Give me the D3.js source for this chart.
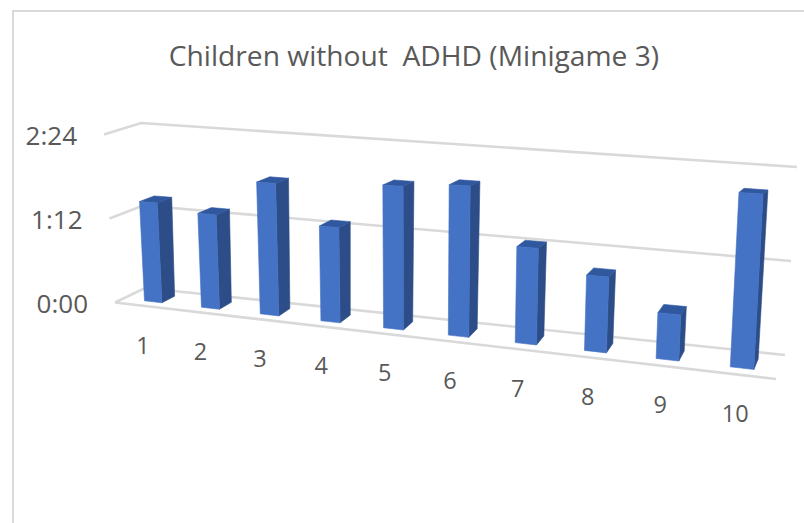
<!DOCTYPE html>
<html><head><meta charset="utf-8">
<script src="https://cdn.jsdelivr.net/npm/d3@7"></script>
<style>html,body{margin:0;padding:0;background:#fff}svg{display:block}text{font-family:"Open Sans",sans-serif;fill:#595959;white-space:pre}</style>
</head><body><svg width="804" height="523"></svg>
<script>
const title = "Children without  ADHD (Minigame 3)";
const categories = ["1","2","3","4","5","6","7","8","9","10"];
const valueLabels = ["1:25","1:19","1:49","1:17","1:54","1:58","1:14","0:57","0:34","2:07"];
const tickLabels = ["0:00","1:12","2:24"];

const secs = s => { const [m, r] = s.split(":").map(Number); return m * 60 + r; };
const svg = d3.select("svg");
const W = 804, H = 523;

// projected box: corners are [x, y] at (u, v, d)
const corners = {
  "000": [115, 302.5], "100": [776, 379], "010": [104, 134.5], "110": [787, 174],
  "001": [145, 288],   "101": [785, 355], "011": [141, 123],   "111": [797, 167]
};
const lerp = (a, b, t) => a + (b - a) * t;
function project(u, v, d) {
  const at = i => {
    const c = (a, b) => corners[`${a}${b}0`][i] * (1 - d) + corners[`${a}${b}1`][i] * d;
    return lerp(lerp(c(0, 0), c(0, 1), v), lerp(c(1, 0), c(1, 1), v), u);
  };
  return [at(0), at(1)];
}
const k = 0.18, shift = 0.0028;
const persp = t => shift + t / (1 + k * (1 - t));
const slot = d3.scaleBand().domain(categories).range([0, 1]).paddingInner(0).paddingOuter(0);
const val = d3.scaleLinear().domain([0, secs(tickLabels[2])]).range([0, 1]);
const path = pts => d3.line()(pts);
const poly = pts => d3.line()(pts) + "Z";

// frame
svg.append("path").attr("d", path([[13, H], [13, 11], [W, 11]]))
  .attr("fill", "none").attr("stroke", "#d9d9d9").attr("stroke-width", 2);

// title
svg.append("text").attr("x", 414).attr("y", 66).attr("text-anchor", "middle")
  .attr("font-size", 28.2).text(title);

// grid
const grid = "#d9d9d9";
tickLabels.forEach(t => {
  const v = val(secs(t));
  svg.append("path").attr("d", path([project(0, v, 0), project(0, v, 1), project(1, v, 1)]))
    .attr("fill", "none").attr("stroke", grid).attr("stroke-width", 2.6);
  const p = project(0, v, 0);
  svg.append("text").attr("x", p[0] - 27).attr("y", p[1] + 3.5)
    .attr("text-anchor", "end").attr("dominant-baseline", "middle")
    .attr("font-size", 26).text(t);
});
svg.append("path").attr("d", path([project(0, 0, 0), project(1, 0, 0)]))
  .attr("fill", "none").attr("stroke", grid).attr("stroke-width", 2.6);

// bars
const d0 = 0.28, d1 = 0.72, frac = 0.155;
const g = svg.append("g");
const face = (pts, col) => g.append("path").attr("d", poly(pts)).attr("fill", col)
  .attr("stroke", col).attr("stroke-width", 0.6);
categories.forEach((c, i) => {
  const mid = slot(c) + slot.bandwidth() / 2, hw = slot.bandwidth() * frac;
  const u0 = persp(mid - hw), u1 = persp(mid + hw);
  const v = val(secs(valueLabels[i]));
  const fbl = project(u0, 0, d0), fbr = project(u1, 0, d0), ftl = project(u0, v, d0), ftr = project(u1, v, d0);
  const bbr = project(u1, 0, d1), btr = project(u1, v, d1), btl = project(u0, v, d1);
  face([fbr, ftr, btr, bbr], "#2c4d87");
  face([ftl, ftr, btr, btl], "#30589f");
  face([fbl, fbr, ftr, ftl], "#4472c4");
  const lp = project(persp(mid), 0, 0.1);
  svg.append("text").attr("x", lp[0] - 5).attr("y", lp[1] + 43).attr("text-anchor", "middle")
    .attr("dominant-baseline", "middle").attr("font-size", 23.5).text(c);
});
</script></body></html>
